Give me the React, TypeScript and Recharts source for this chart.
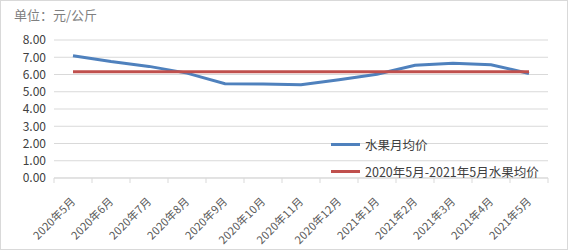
import React from "react";
import { LineChart, Line, XAxis, YAxis, CartesianGrid } from "recharts";

const months = [
  "2020年5月",
  "2020年6月",
  "2020年7月",
  "2020年8月",
  "2020年9月",
  "2020年10月",
  "2020年11月",
  "2020年12月",
  "2021年1月",
  "2021年2月",
  "2021年3月",
  "2021年4月",
  "2021年5月",
];
const monthlyPrice = [7.09, 6.75, 6.47, 6.08, 5.47, 5.45, 5.4, 5.7, 6.01, 6.53, 6.65, 6.57, 6.06];
const periodAverage = 6.16;
const yTicks = [0, 1, 2, 3, 4, 5, 6, 7, 8];

const seriesInfo = [
  { key: "price", name: "水果月均价", color: "#4f81bd" },
  { key: "avg", name: "2020年5月-2021年5月水果均价", color: "#c0504d" },
];

const data = months.map((m, i) => ({
  name: m,
  pos: i + 0.5,
  price: monthlyPrice[i],
  avg: periodAverage,
}));

const boundaryTicks = months.map((_, i) => i).concat([months.length]);
const centerTicks = months.map((_, i) => i + 0.5);

const FONT = "'Noto Sans CJK SC', 'Noto Sans', sans-serif";

const MonthTick = (props: any) => {
  const { x, y, payload } = props;
  const label = months[Math.round(payload.value - 0.5)];
  const ax = x + 1;
  const ay = y + 13;
  return (
    <text
      x={ax}
      y={ay}
      transform={`rotate(-45, ${ax}, ${ay})`}
      textAnchor="end"
      dominantBaseline="middle"
      fontSize={11}
      letterSpacing={0.2}
      fill="#595959"
      fontFamily={FONT}
    >
      {label}
    </text>
  );
};

export default function App() {
  return (
    <div
      style={{
        position: "absolute",
        left: 0,
        top: 0,
        width: 568,
        height: 250,
        border: "1px solid #d9d9d9",
        boxSizing: "border-box",
        background: "#fff",
        fontFamily: FONT,
      }}
    >
      <div
        style={{
          position: "absolute",
          left: 13,
          top: 4,
          fontSize: 13,
          color: "#7f7f7f",
        }}
      >
        单位：元/公斤
      </div>
      <LineChart
        width={566}
        height={248}
        data={data}
        margin={{ top: 39, right: 19, left: 7, bottom: 10 }}
        style={{ position: "absolute", left: 0, top: 0 }}
      >
        <CartesianGrid vertical={false} stroke="#d9d9d9" xAxisId="b" />
        <XAxis
          xAxisId="b"
          dataKey="pos"
          type="number"
          domain={[0, months.length]}
          ticks={boundaryTicks}
          tickFormatter={() => ""}
          tickSize={5}
          tickLine={{ stroke: "#d9d9d9" }}
          axisLine={{ stroke: "#d9d9d9" }}
          height={1}
        />
        <XAxis
          xAxisId="lab"
          dataKey="pos"
          type="number"
          domain={[0, months.length]}
          ticks={centerTicks}
          tick={<MonthTick />}
          tickLine={false}
          axisLine={false}
          interval={0}
          height={60}
        />
        <YAxis
          domain={[0, 8]}
          ticks={yTicks}
          interval={0}
          tickFormatter={(v) => v.toFixed(2)}
          axisLine={false}
          tickLine={false}
          width={46}
          tick={{ fontSize: 12, fill: "#404040", fontFamily: FONT }}
        />
        {seriesInfo.map((s) => (
          <Line
            key={s.key}
            xAxisId="b"
            dataKey={s.key}
            name={s.name}
            stroke={s.color}
            strokeWidth={3}
            dot={false}
            isAnimationActive={false}
          />
        ))}
      </LineChart>
      <div
        style={{
          position: "absolute",
          left: 330,
          top: 130,
          fontSize: 12.5,
          color: "#404040",
        }}
      >
        {seriesInfo.map((s) => (
          <div key={s.key} style={{ display: "flex", alignItems: "center", height: 27 }}>
            <span
              style={{
                display: "inline-block",
                width: 29,
                height: 3,
                background: s.color,
                marginRight: 5,
              }}
            />
            <span>{s.name}</span>
          </div>
        ))}
      </div>
    </div>
  );
}
